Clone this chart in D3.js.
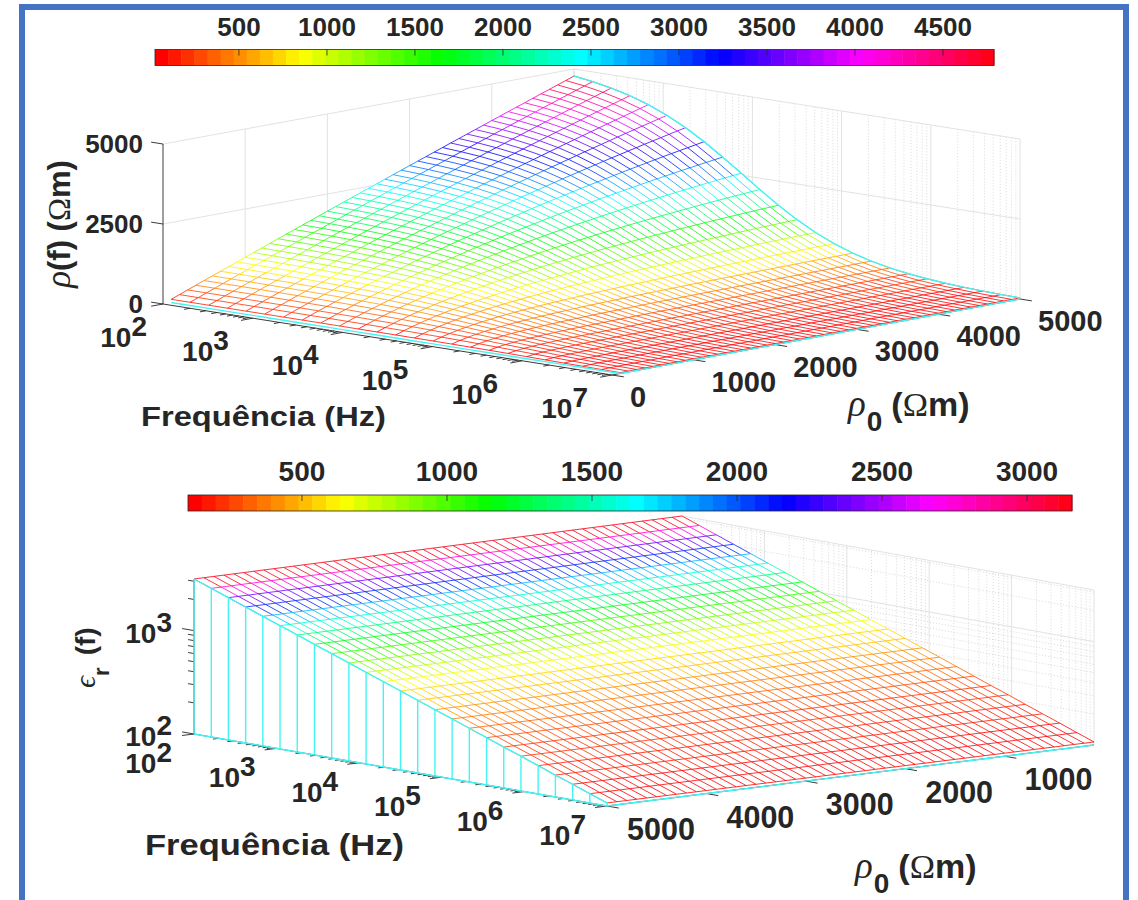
<!DOCTYPE html>
<html>
<head>
<meta charset="utf-8">
<script src="https://cdn.jsdelivr.net/npm/d3@7"></script>
<style>
  html, body { margin: 0; background: #fff; }
  text { font-family: "Liberation Sans", Arial, sans-serif; font-weight: bold; fill: #262626; }
  .serif { font-family: "Liberation Serif", serif; font-weight: normal; }
</style>
</head>
<body>
<svg id="chart" width="1138" height="900"></svg>
<script>
// Grid of the measurements
const freqGrid = [100, 162, 261, 422, 681, 1100, 1778, 2873, 4642, 7499, 12115, 19573, 31623, 51090, 82540, 133352, 215443, 348070, 562341, 908518, 1467799, 2371374, 3831187, 6189658, 10000000];
const rho0Grid = [100, 200, 300, 400, 500, 600, 700, 800, 900, 1000, 1100, 1200, 1300, 1400, 1500, 1600, 1700, 1800, 1900, 2000, 2100, 2200, 2300, 2400, 2500, 2600, 2700, 2800, 2900, 3000, 3100, 3200, 3300, 3400, 3500, 3600, 3700, 3800, 3900, 4000, 4100, 4200, 4300, 4400, 4500, 4600, 4700, 4800, 4900, 5000];

// rho(f): one row per frequency, one value per rho0
const rhoTable = [
  [100,200,299,399,498,597,696,795,893,991,1089,1187,1285,1382,1480,1577,1674,1771,1867,1964,2060,2156,2252,2347,2444,2538,2634,2729,2823,2919,3013,3107,3201,3295,3391,3483,3576,3670,3763,3858,3950,4042,4135,4227,4321,4412,4504,4596,4687,4780],
  [100,199,299,398,497,595,694,792,890,987,1085,1182,1279,1375,1472,1568,1663,1758,1854,1950,2045,2139,2234,2328,2422,2515,2608,2702,2795,2888,2980,3072,3164,3256,3349,3440,3532,3623,3714,3804,3895,3985,4075,4165,4253,4343,4432,4521,4609,4697],
  [100,199,298,397,496,593,691,788,885,982,1078,1174,1269,1365,1461,1555,1649,1743,1837,1931,2023,2115,2208,2300,2392,2483,2574,2664,2755,2846,2935,3025,3114,3204,3293,3381,3468,3556,3643,3731,3817,3904,3990,4077,4163,4248,4333,4417,4502,4587],
  [100,199,298,396,494,590,687,783,879,975,1069,1163,1257,1351,1445,1537,1629,1720,1812,1904,1994,2083,2173,2262,2352,2439,2527,2614,2702,2789,2874,2960,3045,3131,3216,3300,3383,3467,3550,3634,3716,3797,3879,3960,4042,4122,4201,4281,4360,4440],
  [100,199,297,394,491,586,681,776,871,966,1058,1150,1241,1333,1425,1514,1602,1691,1779,1868,1954,2040,2125,2211,2297,2380,2463,2547,2630,2713,2793,2874,2954,3035,3115,3193,3271,3349,3427,3505,3581,3656,3732,3807,3883,3956,4030,4103,4177,4250],
  [100,198,296,392,488,581,674,767,860,953,1042,1130,1219,1307,1396,1481,1566,1650,1735,1820,1901,1982,2063,2144,2225,2302,2380,2457,2535,2612,2686,2760,2835,2909,2983,3054,3125,3197,3268,3339,3407,3475,3544,3612,3680,3746,3811,3877,3942,4008],
  [99,197,294,389,483,574,664,755,845,935,1020,1105,1189,1274,1359,1439,1518,1598,1677,1757,1832,1907,1981,2056,2131,2202,2272,2343,2413,2484,2551,2617,2684,2750,2817,2880,2943,3006,3069,3132,3192,3251,3311,3370,3430,3487,3543,3600,3656,3713],
  [99,196,291,385,477,565,652,739,825,912,992,1071,1150,1230,1309,1382,1455,1529,1602,1675,1742,1810,1877,1945,2012,2074,2137,2199,2262,2324,2382,2440,2497,2555,2613,2667,2721,2774,2828,2882,2932,2982,3033,3083,3133,3180,3227,3273,3320,3367],
  [99,195,289,379,468,553,637,720,800,880,955,1029,1102,1174,1246,1313,1379,1444,1508,1572,1632,1692,1751,1809,1866,1920,1974,2027,2079,2131,2180,2229,2277,2324,2371,2416,2461,2505,2548,2591,2632,2673,2713,2753,2792,2830,2868,2904,2940,2976],
  [98,193,285,372,457,538,617,693,767,840,909,976,1041,1105,1167,1226,1284,1340,1395,1449,1500,1550,1599,1647,1695,1740,1784,1827,1869,1911,1950,1989,2027,2065,2102,2137,2172,2206,2240,2273,2305,2336,2367,2397,2426,2455,2483,2511,2538,2564],
  [97,190,278,362,441,517,590,660,726,790,851,910,966,1020,1072,1122,1170,1216,1261,1305,1346,1387,1426,1464,1502,1537,1572,1605,1637,1669,1699,1729,1758,1786,1813,1839,1865,1890,1914,1938,1961,1984,2006,2027,2048,2069,2089,2108,2127,2146],
  [96,186,270,348,421,490,555,616,674,728,780,829,876,920,962,1002,1041,1076,1112,1145,1178,1208,1238,1266,1294,1319,1346,1370,1393,1416,1437,1459,1479,1499,1517,1536,1555,1572,1590,1605,1621,1637,1650,1667,1681,1695,1706,1721,1733,1745],
  [95,181,259,330,397,457,512,564,612,657,698,738,774,809,841,872,901,928,954,978,1002,1024,1045,1065,1085,1103,1121,1138,1153,1169,1183,1198,1212,1225,1238,1250,1263,1274,1285,1295,1305,1316,1325,1335,1344,1353,1361,1370,1377,1385],
  [93,175,246,308,366,419,463,505,543,578,610,640,667,692,716,738,759,778,796,813,829,844,858,872,885,897,909,920,930,940,950,959,968,976,984,992,1000,1007,1014,1020,1026,1033,1038,1045,1050,1056,1060,1066,1070,1075],
  [91,166,229,283,331,372,408,442,469,495,518,539,558,576,592,607,621,634,646,658,668,678,687,696,704,712,719,726,733,739,745,751,756,761,766,771,775,780,784,787,791,795,798,801,805,808,811,813,816,820],
  [87,155,209,254,292,323,350,374,394,412,429,442,455,467,477,487,496,503,511,518,524,530,536,541,546,551,555,559,563,567,570,574,577,580,583,585,588,590,593,595,597,599,601,603,605,607,609,610,612,613],
  [83,143,187,222,250,273,291,308,322,333,344,353,361,368,375,381,386,391,396,400,404,407,411,414,417,419,422,424,427,429,431,433,435,436,438,439,441,442,444,444,446,447,448,449,450,451,452,453,454,455],
  [78,128,162,188,208,224,236,247,256,264,270,276,281,285,289,292,296,299,301,303,306,308,309,311,313,314,316,317,318,319,320,321,322,323,324,325,325,326,327,327,328,329,329,330,330,331,331,332,332,333],
  [72,112,138,155,169,178,187,193,198,202,206,209,212,215,217,219,221,223,224,226,227,228,229,230,231,232,233,233,234,235,235,236,236,237,237,238,238,239,239,240,240,240,241,241,241,242,242,242,243,243],
  [65,95,113,125,133,140,144,148,151,154,156,158,160,161,162,163,164,165,166,167,168,168,169,169,170,170,171,171,172,172,172,173,173,173,173,174,174,174,174,175,175,175,175,175,175,176,176,176,176,176],
  [56,79,90,98,103,107,110,112,113,115,116,117,118,119,120,120,121,121,122,122,122,123,123,123,124,124,124,124,125,125,125,125,125,125,125,126,126,126,126,126,126,126,126,126,126,127,127,127,127,127],
  [48,63,71,75,78,80,82,83,84,85,85,86,86,87,87,87,88,88,88,89,89,89,89,89,89,90,90,90,90,90,90,90,90,90,90,90,91,91,91,91,91,91,91,91,91,91,91,91,91,91],
  [40,50,54,57,59,60,60,61,62,62,62,63,63,63,63,63,64,64,64,64,64,64,64,64,64,64,64,65,65,65,65,65,65,65,65,65,65,65,65,65,65,65,65,65,65,65,65,65,65,65],
  [32,38,41,42,43,44,44,45,45,45,45,45,46,46,46,46,46,46,46,46,46,46,46,46,46,46,46,46,46,46,46,46,47,47,47,47,47,47,47,47,47,47,47,47,47,47,47,47,47,47],
  [25,29,30,31,32,32,32,32,33,33,33,33,33,33,33,33,33,33,33,33,33,33,33,33,33,33,33,33,33,33,33,33,33,33,33,33,33,33,33,33,33,34,34,34,34,34,34,34,34,34],
];

// eps_r(f) does not change with rho0 in the picture, one value per frequency
const epsByFreq = [3155, 2740, 2380, 2067, 1795, 1559, 1354, 1176, 1021, 887, 770, 669, 581, 505, 438, 381, 331, 287, 249, 217, 188, 163, 142, 123, 107];

// Tick labels
const freqExponents = [2, 3, 4, 5, 6, 7];
const rhoTicks = [0, 1000, 2000, 3000, 4000, 5000];
const rhoTicksLower = [1000, 2000, 3000, 4000, 5000];
const rhoAxisTicks = [0, 2500, 5000];
const epsExponents = [2, 3];
const rhoBarTicks = [500, 1000, 1500, 2000, 2500, 3000, 3500, 4000, 4500];
const epsBarTicks = [500, 1000, 1500, 2000, 2500, 3000];

const svg = d3.select('#chart');

// MATLAB hsv(64)
const hsvColors = d3.range(64).map((i) => d3.hsl((i * 360) / 64, 1, 0.5).formatHex());
const gridColor = '#e2e2e2';
const axisColor = '#262626';
const curtainColor = '#44f4f4';

// Blue frame around the figure
svg.append('path')
  .attr('d', 'M22,900V7H1126V900')
  .attr('fill', 'none')
  .attr('stroke', '#4472c4')
  .attr('stroke-width', 6);

function bilinear(box, u, v) {
  const point = (k) => (1 - u) * (1 - v) * box.L[k] + u * (1 - v) * box.F[k]
    + (1 - u) * v * box.B[k] + u * v * box.R[k];
  return [point(0), point(1)];
}

function drawColorbar(cfg) {
  const x = d3.scaleLinear().domain(cfg.domain).range(cfg.xRange);
  const g = svg.append('g');
  const step = (cfg.xRange[1] - cfg.xRange[0]) / hsvColors.length;

  g.selectAll('rect')
    .data(hsvColors)
    .enter()
    .append('rect')
    .attr('x', (d, i) => cfg.xRange[0] + i * step)
    .attr('y', cfg.y)
    .attr('width', step + 0.5)
    .attr('height', cfg.height)
    .attr('fill', (d) => d);

  g.append('rect')
    .attr('x', cfg.xRange[0])
    .attr('y', cfg.y)
    .attr('width', cfg.xRange[1] - cfg.xRange[0])
    .attr('height', cfg.height)
    .attr('fill', 'none')
    .attr('stroke', axisColor)
    .attr('stroke-width', 0.8);

  g.selectAll('line')
    .data(cfg.ticks)
    .enter()
    .append('line')
    .attr('x1', (d) => x(d))
    .attr('x2', (d) => x(d))
    .attr('y1', cfg.y)
    .attr('y2', cfg.y + 6)
    .attr('stroke', axisColor)
    .attr('stroke-width', 0.8);

  g.selectAll('text')
    .data(cfg.ticks)
    .enter()
    .append('text')
    .attr('x', (d) => x(d))
    .attr('y', cfg.y - 14)
    .attr('text-anchor', 'middle')
    .attr('font-size', cfg.fontSize)
    .text((d) => d);
}

function powerLabel(g, x, y, exponent) {
  const label = g.append('text')
    .attr('x', x)
    .attr('y', y)
    .attr('text-anchor', 'end')
    .attr('font-size', 28);
  label.append('tspan').text('10');
  label.append('tspan').attr('dy', -11).text(exponent);
}

function segmentPath(points) {
  return d3.line()(points);
}

function drawSurface(cfg) {
  const g = svg.append('g');
  const { box } = cfg;

  const color = d3.scaleQuantize().domain(cfg.colorDomain).range(hsvColors);
  const uScale = d3.scaleLog().domain([1e2, 1e7]).range([0, 1]);
  const vScale = d3.scaleLinear().domain(cfg.rhoDomain).range([0, 1]);

  const project = (f, rho0, z) => {
    const p = bilinear(box, uScale(f), vScale(rho0));
    return [p[0], p[1] - cfg.zScale(z)];
  };
  const zFloor = cfg.zScale.domain()[0];

  // Walls behind the surface
  const walls = g.append('g');
  const wallLine = (points, dotted) => walls.append('path')
    .attr('d', segmentPath(points))
    .attr('fill', 'none')
    .attr('stroke', dotted ? '#cfcfcf' : gridColor)
    .attr('stroke-width', dotted ? 0.8 : 1)
    .attr('stroke-dasharray', dotted ? '1,2' : null);

  const [rhoLow, rhoHigh] = cfg.wallRho;
  const zTop = cfg.zScale.domain()[1];
  uScale.ticks().forEach((f) => {
    const major = Number.isInteger(Math.log10(f));
    wallLine([project(f, rhoHigh, zFloor), project(f, rhoHigh, zTop)], !major);
  });
  cfg.wallHeights.forEach((z) => {
    const major = cfg.majorHeights.includes(z);
    wallLine([project(1e2, rhoHigh, z), project(1e7, rhoHigh, z)], !major);
    if (major) wallLine([project(1e2, rhoLow, z), project(1e2, rhoHigh, z)], false);
  });
  cfg.sideRhoTicks.forEach((rho0) => {
    wallLine([project(1e2, rho0, zFloor), project(1e2, rho0, zTop)], false);
  });

  // White faces hide the walls
  const lastF = freqGrid.length - 1;
  const lastR = rho0Grid.length - 1;
  const zAt = cfg.value;
  const outline = []
    .concat(freqGrid.map((f, i) => project(f, rho0Grid[0], zAt(i, 0))))
    .concat(rho0Grid.map((r, j) => project(freqGrid[lastF], r, zAt(lastF, j))))
    .concat(freqGrid.map((f, i) => project(f, rho0Grid[lastR], zAt(i, lastR))).reverse())
    .concat(rho0Grid.map((r, j) => project(freqGrid[0], r, zAt(0, j))).reverse());
  g.append('path')
    .attr('d', `${segmentPath(outline)}Z`)
    .attr('fill', '#fff');

  // Curtain under the edge of the mesh that faces the viewer
  const curtainRho = cfg.curtainRho;
  const curtainIdx = rho0Grid.indexOf(curtainRho);
  const curtainTop = freqGrid.map((f, i) => project(f, curtainRho, zAt(i, curtainIdx)));
  const curtainFloor = freqGrid.map((f) => project(f, curtainRho, zFloor));
  g.append('path')
    .attr('d', `${segmentPath(curtainTop.concat(curtainFloor.slice().reverse()))}Z`)
    .attr('fill', '#fff');

  // Mesh, one path per colour
  const segments = [];
  freqGrid.forEach((f, i) => {
    rho0Grid.forEach((r, j) => {
      const v = zAt(i, j);
      const here = project(f, r, v);
      if (i < lastF) segments.push({ c: color(cfg.colorValue(i, j)), p: [here, project(freqGrid[i + 1], r, zAt(i + 1, j))] });
      if (j < lastR) segments.push({ c: color(cfg.colorValue(i, j)), p: [here, project(f, rho0Grid[j + 1], zAt(i, j + 1))] });
    });
  });

  g.append('g')
    .selectAll('path')
    .data(d3.groups(segments, (d) => d.c))
    .enter()
    .append('path')
    .attr('d', ([, list]) => list.map((s) => segmentPath(s.p)).join(''))
    .attr('fill', 'none')
    .attr('stroke', ([c]) => c)
    .attr('stroke-width', 1)
    .attr('stroke-opacity', 0.8);

  // Axes
  const axes = g.append('g').attr('stroke', axisColor).attr('fill', 'none');
  const unit = (a, b) => {
    const len = Math.hypot(b[0] - a[0], b[1] - a[1]);
    return [(b[0] - a[0]) / len, (b[1] - a[1]) / len];
  };
  const fDir = unit(box.L, box.F);
  const rDir = unit(box.F, box.R);
  const axisLine = (a, b, w) => axes.append('path')
    .attr('d', segmentPath([a, b]))
    .attr('stroke-width', w || 0.9);
  const tickFrom = (p, dir, len) => axisLine(p, [p[0] + dir[0] * len, p[1] + dir[1] * len]);

  axisLine(box.L, box.F);
  axisLine(box.F, box.R);
  axisLine(box.L, [box.L[0], box.L[1] - cfg.zScale(zTop)]);

  uScale.ticks().forEach((f) => {
    const major = Number.isInteger(Math.log10(f));
    tickFrom(project(f, cfg.frontRho, zFloor), [-rDir[0], -rDir[1]], major ? 12 : 6);
  });
  cfg.rhoAxisTicks.forEach((rho0) => {
    tickFrom(project(1e7, rho0, zFloor), fDir, 12);
  });
  cfg.zTicks.forEach((z) => {
    const major = cfg.zMajor.includes(z);
    tickFrom(project(1e2, cfg.frontRho, z), [-fDir[0], -fDir[1]], major ? 12 : 6);
  });

  // Cyan edges sit on top of the axis lines
  const cyan = g.append('g')
    .attr('fill', 'none')
    .attr('stroke', curtainColor)
    .attr('stroke-width', 1.4);
  cfg.cyanEdges.forEach((rho0) => {
    const idx = rho0Grid.indexOf(rho0);
    cyan.append('path').attr('d', segmentPath(freqGrid.map((f, i) => project(f, rho0, zAt(i, idx)))));
  });
  cyan.append('path').attr('d', segmentPath(curtainFloor));
  cyan.append('path').attr('d', segmentPath(rho0Grid.map((r) => project(1e7, r, zFloor))));
  if (cfg.curtainVerticals) {
    freqGrid.forEach((f, i) => {
      cyan.append('path').attr('d', segmentPath([curtainFloor[i], curtainTop[i]]));
    });
  }

  // Tick labels
  freqExponents.forEach((e, i) => {
    const p = project(10 ** e, cfg.frontRho, zFloor);
    powerLabel(g, p[0] + (i === 0 ? cfg.firstFreqDx : cfg.freqDx), p[1] + cfg.freqDy, e);
  });
  g.selectAll('.rho-label')
    .data(cfg.rhoAxisTicks)
    .enter()
    .append('text')
    .attr('class', 'rho-label')
    .attr('x', (d) => project(1e7, d, zFloor)[0] + cfg.rhoLabelDx)
    .attr('y', (d) => project(1e7, d, zFloor)[1] + cfg.rhoLabelDy)
    .attr('text-anchor', cfg.rhoLabelAnchor)
    .attr('font-size', cfg.rhoLabelSize)
    .text((d) => d);

  return { g, project };
}

function rhoSymbolLabel(x, y) {
  const label = svg.append('text').attr('x', x).attr('y', y).attr('font-size', 34);
  label.append('tspan').attr('class', 'serif').attr('font-style', 'italic').attr('font-size', 37)
    .text('ρ');
  label.append('tspan').attr('font-size', 28).attr('dy', 15).attr('dx', 1).text('0');
  label.append('tspan').attr('dy', -15).attr('dx', 9).text('(');
  label.append('tspan').attr('class', 'serif').text('Ω');
  label.append('tspan').text('m)');
}

function frequencyTitle(x, y, size, length) {
  svg.append('text')
    .attr('x', x)
    .attr('y', y)
    .attr('font-size', size)
    .attr('textLength', length)
    .attr('lengthAdjust', 'spacingAndGlyphs')
    .text('Frequência (Hz)');
}

// Upper panel
drawColorbar({
  domain: [23, 4790],
  xRange: [155, 994],
  y: 49.5,
  height: 16,
  ticks: rhoBarTicks,
  fontSize: 26,
});

const upper = drawSurface({
  box: { L: [163, 304], F: [612, 375], B: [574, 229], R: [1020, 299] },
  zScale: d3.scaleLinear().domain([0, 5000]).range([0, 160]),
  colorDomain: [23, 4790],
  rhoDomain: [0, 5000],
  wallRho: [0, 5000],
  wallHeights: [2500, 5000],
  majorHeights: [2500, 5000],
  sideRhoTicks: rhoTicksLower,
  value: (i, j) => rhoTable[i][j],
  colorValue: (i, j) => rhoTable[i][j],
  curtainRho: 100,
  curtainVerticals: false,
  cyanEdges: [5000],
  frontRho: 0,
  rhoAxisTicks: rhoTicks,
  zTicks: rhoAxisTicks,
  zMajor: rhoAxisTicks,
  firstFreqDx: -16,
  freqDx: -24,
  freqDy: 43,
  rhoLabelDx: 18,
  rhoLabelDy: 32,
  rhoLabelAnchor: 'start',
  rhoLabelSize: 29,
});

rhoAxisTicks.forEach((z) => {
  const p = upper.project(1e2, 0, z);
  upper.g.append('text')
    .attr('x', p[0] - 20)
    .attr('y', p[1] + 9)
    .attr('text-anchor', 'end')
    .attr('font-size', 26)
    .text(z);
});

frequencyTitle(141, 426, 28, 245);
rhoSymbolLabel(848, 416);

const rhoZLabel = svg.append('text')
  .attr('transform', 'translate(70,224) rotate(-90)')
  .attr('text-anchor', 'middle')
  .attr('font-size', 31);
rhoZLabel.append('tspan').attr('class', 'serif').attr('font-style', 'italic').attr('font-size', 35)
  .text('ρ');
rhoZLabel.append('tspan').text('(f) (');
rhoZLabel.append('tspan').attr('class', 'serif').text('Ω');
rhoZLabel.append('tspan').text('m)');

// Lower panel
drawColorbar({
  domain: [107, 3155],
  xRange: [188, 1072],
  y: 495,
  height: 16,
  ticks: epsBarTicks,
  fontSize: 28,
});

const lowerZ = d3.scaleLog().domain([100, 3155]).range([0, 155]);
const lower = drawSurface({
  box: { L: [194, 734], F: [607, 806], B: [682, 671], R: [1094, 745] },
  zScale: lowerZ,
  colorDomain: [107, 3155],
  rhoDomain: [5000, 100],
  wallRho: [5000, 100],
  wallHeights: lowerZ.ticks().concat([3155]),
  majorHeights: [1000, 3155],
  sideRhoTicks: [],
  value: (i) => epsByFreq[i],
  colorValue: (i) => epsByFreq[i],
  curtainRho: 5000,
  curtainVerticals: true,
  cyanEdges: [5000],
  frontRho: 5000,
  rhoAxisTicks: rhoTicksLower,
  zTicks: lowerZ.ticks().filter((d) => d <= 3000),
  zMajor: [100, 1000],
  firstFreqDx: -22,
  freqDx: -21,
  freqDy: 39,
  rhoLabelDx: 54,
  rhoLabelDy: 34,
  rhoLabelAnchor: 'middle',
  rhoLabelSize: 30.5,
});

epsExponents.forEach((e) => {
  const p = lower.project(1e2, 5000, 10 ** e);
  powerLabel(lower.g, p[0] - 22, p[1] + 12, e);
});

frequencyTitle(145, 855, 29, 259);
rhoSymbolLabel(855, 878);

const epsZLabel = svg.append('text')
  .attr('transform', 'translate(95,688) rotate(-90)')
  .attr('font-size', 28);
epsZLabel.append('tspan').attr('class', 'serif').attr('font-style', 'italic').attr('font-size', 30)
  .text('ϵ');
epsZLabel.append('tspan').attr('font-size', 22).attr('dy', 14).text('r');
epsZLabel.append('tspan').attr('dy', -14).attr('dx', 12).text('(f)');
</script>
</body>
</html>
